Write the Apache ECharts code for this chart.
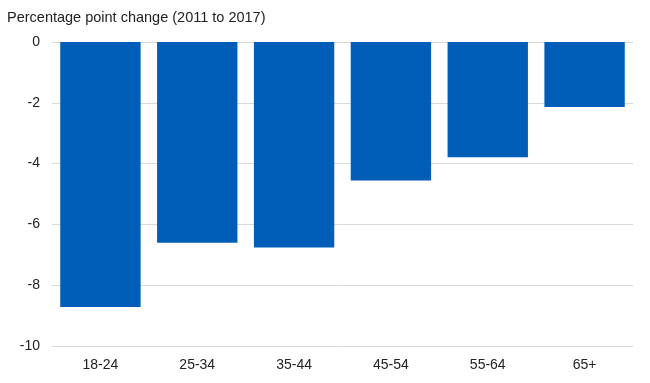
<!DOCTYPE html>
<html><head><meta charset="utf-8">
<script src="https://cdn.jsdelivr.net/npm/echarts@6/dist/echarts.min.js"></script>
<style>html,body{margin:0;padding:0;background:#fff}#c{width:650px;height:383px}</style>
</head><body><div id="c"></div>
<script>
const categories = ['18-24','25-34','35-44','45-54','55-64','65+'];
const values = [-8.72,-6.6,-6.76,-4.56,-3.79,-2.14];
const yTitle = 'Percentage point change (2011 to 2017)';
const chart = echarts.init(document.getElementById('c'));
chart.setOption({
  animation:false,
  title:{text:yTitle,left:2,top:5,textStyle:{fontFamily:'Liberation Sans',fontSize:14.5,fontWeight:'normal',color:'#222'}},
  grid:{left:52,right:17,top:42,bottom:37},
  xAxis:{type:'category',data:categories,axisLine:{show:false},axisTick:{show:false},
    axisLabel:{fontFamily:'Liberation Sans',fontSize:14,color:'#222',margin:12}},
  yAxis:{type:'value',min:-10,max:0,interval:2,
    axisLabel:{fontFamily:'Liberation Sans',fontSize:14,color:'#222',margin:12},
    splitLine:{lineStyle:{color:'#d9d9d9',width:1}}},
  series:[{type:'bar',data:values,barCategoryGap:'17%',itemStyle:{color:'#005EB8'}}]
});
</script></body></html>
